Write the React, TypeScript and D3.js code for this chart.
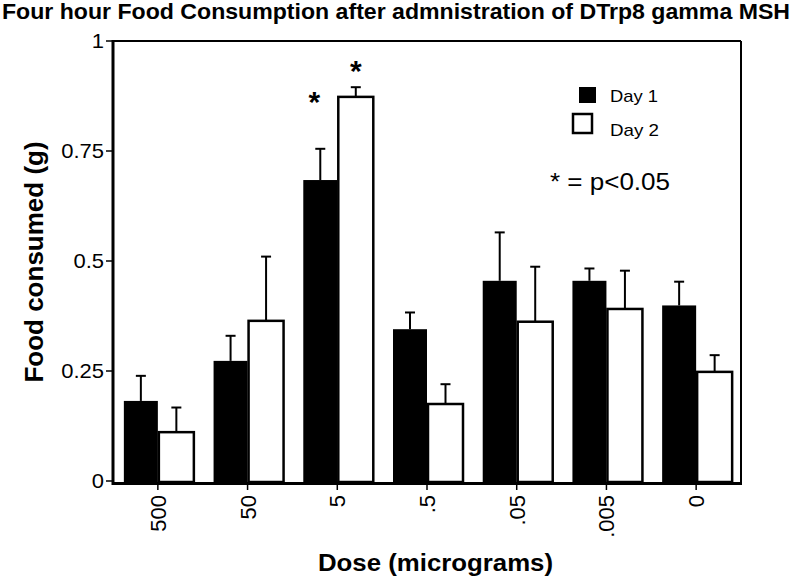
import React from "react";
import * as d3 from "d3";

const doses = ["500", "50", "5", ".5", ".05", ".005", "0"];
const day1 = [0.182, 0.273, 0.684, 0.345, 0.455, 0.455, 0.399];
const day1Err = [0.057, 0.057, 0.071, 0.038, 0.11, 0.028, 0.054];
const day2 = [0.111, 0.364, 0.873, 0.175, 0.362, 0.391, 0.248];
const day2Err = [0.056, 0.146, 0.022, 0.045, 0.125, 0.087, 0.038];
const significant = ["5"];
const yTicks = [0, 0.25, 0.5, 0.75, 1];
const yTickLabels = ["0", "0.25", "0.5", "0.75", "1"];

const FONT = "'Liberation Sans', Arial, Helvetica, sans-serif";

export default function App() {
  const W = 792, H = 576;
  const left = 113, right = 741, top = 41, bottom = 481;
  const x = d3.scaleBand<string>().domain(doses).range([left, right]).padding(0);
  const y = d3.scaleLinear().domain([0, 1]).range([bottom, top]);
  const bw1 = 34, bw2 = 37;
  const sx = 1.1;

  return (
    <svg width={W} height={H} style={{ position: "absolute", left: 0, top: 0, background: "#fff" }} fontFamily={FONT}>
      <rect x={0} y={0} width={W} height={H} fill="#fff" />
      <text x={2} y={19} fontSize={22} fontWeight="bold" textLength={788} lengthAdjust="spacingAndGlyphs">
        Four hour Food Consumption after admnistration of DTrp8 gamma MSH
      </text>

      {/* bars */}
      {doses.map((d, i) => {
        const c = (x(d) as number) + x.bandwidth() / 2;
        const y1 = y(day1[i]);
        const y2 = y(day2[i]);
        const e1 = y(day1[i] + day1Err[i]);
        const e2 = y(day2[i] + day2Err[i]);
        const c1 = c - bw1 / 2;
        const c2 = c + bw2 / 2;
        return (
          <g key={d}>
            <line x1={c1} x2={c1} y1={y1} y2={e1} stroke="#000" strokeWidth={2} />
            <line x1={c1 - 5} x2={c1 + 5} y1={e1} y2={e1} stroke="#000" strokeWidth={2} />
            <line x1={c2} x2={c2} y1={y2} y2={e2} stroke="#000" strokeWidth={2} />
            <line x1={c2 - 5} x2={c2 + 5} y1={e2} y2={e2} stroke="#000" strokeWidth={2} />
            <rect x={c - bw1} y={y1} width={bw1} height={bottom - y1 + 2} fill="#000" />
            <rect x={c + 1} y={y2} width={bw2 - 2} height={bottom - y2 + 1} fill="#fff" stroke="#000" strokeWidth={2.5} />
            {significant.includes(d) && (
              <>
                <text x={c1 - 6} y={y2 + 15} fontSize={30} fontWeight="bold" textAnchor="middle">*</text>
                <text x={c2} y={e2 - 22 + 16} fontSize={30} fontWeight="bold" textAnchor="middle">*</text>
              </>
            )}
          </g>
        );
      })}

      {/* frame */}
      <line x1={left} x2={right} y1={top} y2={top} stroke="#000" strokeWidth={2} />
      <line x1={right} x2={right} y1={top} y2={bottom + 3} stroke="#000" strokeWidth={2} />
      <line x1={left} x2={left} y1={top - 1} y2={bottom + 4} stroke="#000" strokeWidth={3} />
      <line x1={left - 1} x2={right + 1} y1={bottom + 2.5} y2={bottom + 2.5} stroke="#000" strokeWidth={3} />

      {/* y axis */}
      {yTicks.map((t, i) => (
        <g key={t}>
          <line x1={left - 7} x2={left} y1={y(t)} y2={y(t)} stroke="#000" strokeWidth={1.5} />
          <text transform={`translate(${left - 9},${y(t) + 7}) scale(${sx},1)`} fontSize={20} textAnchor="end">{yTickLabels[i]}</text>
        </g>
      ))}
      <text transform={`translate(43,262) rotate(-90)`} fontSize={26} fontWeight="bold" textAnchor="middle">
        Food consumed (g)
      </text>

      {/* x axis */}
      {doses.map((d) => {
        const c = (x(d) as number) + x.bandwidth() / 2;
        return (
          <g key={d}>
            <line x1={c} x2={c} y1={bottom + 3} y2={bottom + 9} stroke="#000" strokeWidth={1.5} />
            <text transform={`translate(${c + 8},${bottom + 14}) rotate(-90)`} fontSize={22} textAnchor="end">{d}</text>
          </g>
        );
      })}
      <text x={318} y={571} fontSize={23} fontWeight="bold" textLength={235} lengthAdjust="spacingAndGlyphs">Dose (micrograms)</text>

      {/* legend */}
      <rect x={579} y={87} width={17} height={16} fill="#000" />
      <text x={610} y={102} fontSize={17} textLength={48} lengthAdjust="spacingAndGlyphs">Day 1</text>
      <rect x={573} y={114} width={19} height={19} fill="#fff" stroke="#000" strokeWidth={2.5} />
      <text x={610} y={136} fontSize={17} textLength={49} lengthAdjust="spacingAndGlyphs">Day 2</text>
      <text x={550} y={190} fontSize={23} textLength={120} lengthAdjust="spacingAndGlyphs">* = p&lt;0.05</text>
    </svg>
  );
}
